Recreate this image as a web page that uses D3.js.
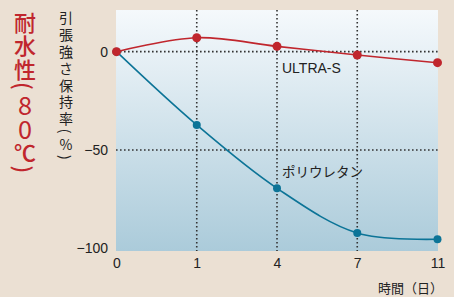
<!DOCTYPE html>
<html>
<head>
<meta charset="utf-8">
<script src="https://cdn.jsdelivr.net/npm/d3@7"></script>
<style>
  body { margin: 0; background: #ebe0d3; }
  svg { display: block; }
  text { font-family: "Liberation Sans", "Noto Sans CJK JP", sans-serif; fill: #222; }
</style>
</head>
<body>
<div id="chart"></div>
<script>
// data
var days = ["0", "1", "4", "7", "11"];
var ultraS = [0, 7.1, 2.7, -1.7, -5.6];
var polyurethane = [0, -37.3, -69.5, -92.2, -95.4];
var yTicks = [0, -50, -100];
var gridX = ["1", "4", "7"];
var gridY = [0, -50];

var width = 454, height = 297;
var plotL = 116, plotR = 438, plotT = 10, plotB = 251;

var svg = d3.select("#chart").append("svg")
  .attr("width", width)
  .attr("height", height);

var x = d3.scalePoint().domain(days).range([plotL + 0.5, plotR - 0.5]);
var y = d3.scaleLinear().domain([-101.4, 21.2]).range([plotB, plotT]);

// plot background gradient
var grad = svg.append("defs").append("linearGradient")
  .attr("id", "bg").attr("x1", 0).attr("y1", 0).attr("x2", 0).attr("y2", 1);
grad.append("stop").attr("offset", "0%").attr("stop-color", "#f5f9fc");
grad.append("stop").attr("offset", "100%").attr("stop-color", "#abcbda");

svg.append("rect")
  .attr("x", plotL).attr("y", plotT)
  .attr("width", plotR - plotL).attr("height", plotB - plotT)
  .style("fill", "url(#bg)");

// dotted grid
svg.selectAll("line.gx").data(gridX).enter().append("line")
  .attr("x1", function(d){ return x(d); }).attr("x2", function(d){ return x(d); })
  .attr("y1", plotT).attr("y2", plotB)
  .style("stroke", "#333").style("stroke-width", 1.6).style("stroke-dasharray", "1.6,2.4");

svg.selectAll("line.gy").data(gridY).enter().append("line")
  .attr("x1", plotL).attr("x2", plotR)
  .attr("y1", function(d){ return y(d); }).attr("y2", function(d){ return y(d); })
  .style("stroke", "#333").style("stroke-width", 1.6).style("stroke-dasharray", "1.6,2.4");

// axes (labels only)
var yAxis = svg.append("g").attr("transform", "translate(" + plotL + ",0)")
  .call(d3.axisLeft(y).tickValues(yTicks).tickSize(0).tickPadding(8).tickFormat(d3.format("d")));
var xAxis = svg.append("g").attr("transform", "translate(0," + plotB + ")")
  .call(d3.axisBottom(x).tickSize(0).tickPadding(7));
[yAxis, xAxis].forEach(function(g){
  g.select(".domain").remove();
  g.selectAll("text").style("font-size", "14px").style("fill", "#222")
    .style("font-family", "Liberation Sans, sans-serif");
});

// lines
var line = d3.line()
  .x(function(d, i){ return x(days[i]); })
  .y(function(d){ return y(d); })
  .curve(d3.curveCatmullRom.alpha(0.5));

var series = [
  { values: polyurethane, color: "#0c7497", r: 4 },
  { values: ultraS, color: "#c0262d", r: 4.5 }
];

series.forEach(function(s){
  svg.append("path").datum(s.values)
    .attr("d", line)
    .style("fill", "none").style("stroke", s.color).style("stroke-width", 1.6);
  svg.selectAll(null).data(s.values).enter().append("circle")
    .attr("cx", function(d, i){ return x(days[i]); })
    .attr("cy", function(d){ return y(d); })
    .attr("r", s.r)
    .style("fill", s.color);
});

// series labels
svg.append("text").attr("x", x("4") + 5).attr("y", y(-11)).text("ULTRA-S")
  .style("font-size", "14px");
svg.append("text").attr("x", x("4") + 5).attr("y", y(-64)).text("ポリウレタン")
  .style("font-size", "13.5px").style("font-family", "Noto Sans CJK JP");

// x axis title
svg.append("text").attr("x", 443).attr("y", 293).attr("text-anchor", "end")
  .text("時間（日）").style("font-size", "13px").style("font-family", "Noto Sans CJK JP");

// vertical titles, one character at a time
function vertical(chars, cx, y0, step, size, color, weight){
  var yy = y0;
  chars.forEach(function(c){
    var isParen = c === "(" || c === ")";
    var isDigit = /[0-9]/.test(c);
    var h = isParen ? step * 0.55 : step;
    var t = svg.append("text")
      .attr("text-anchor", "middle").attr("dominant-baseline", "central")
      .style("font-size", (isDigit ? size * 1.15 : size) + "px").style("fill", color)
      .style("font-family", "Noto Sans CJK JP").style("font-weight", isDigit ? 400 : weight)
      .text(c);
    var cy = yy + h / 2;
    if (isParen) t.attr("transform", "translate(" + cx + "," + cy + ") rotate(90)");
    else t.attr("x", cx).attr("y", cy);
    yy += h;
  });
}

vertical(["耐", "水", "性", "(", "8", "0", "℃", ")"], 25, 9, 23.5, 22, "#c0262d", 500);
vertical(["引", "張", "強", "さ", "保", "持", "率", "(", "%", ")"], 66, 9, 16.8, 14, "#222", 400);
</script>
</body>
</html>
